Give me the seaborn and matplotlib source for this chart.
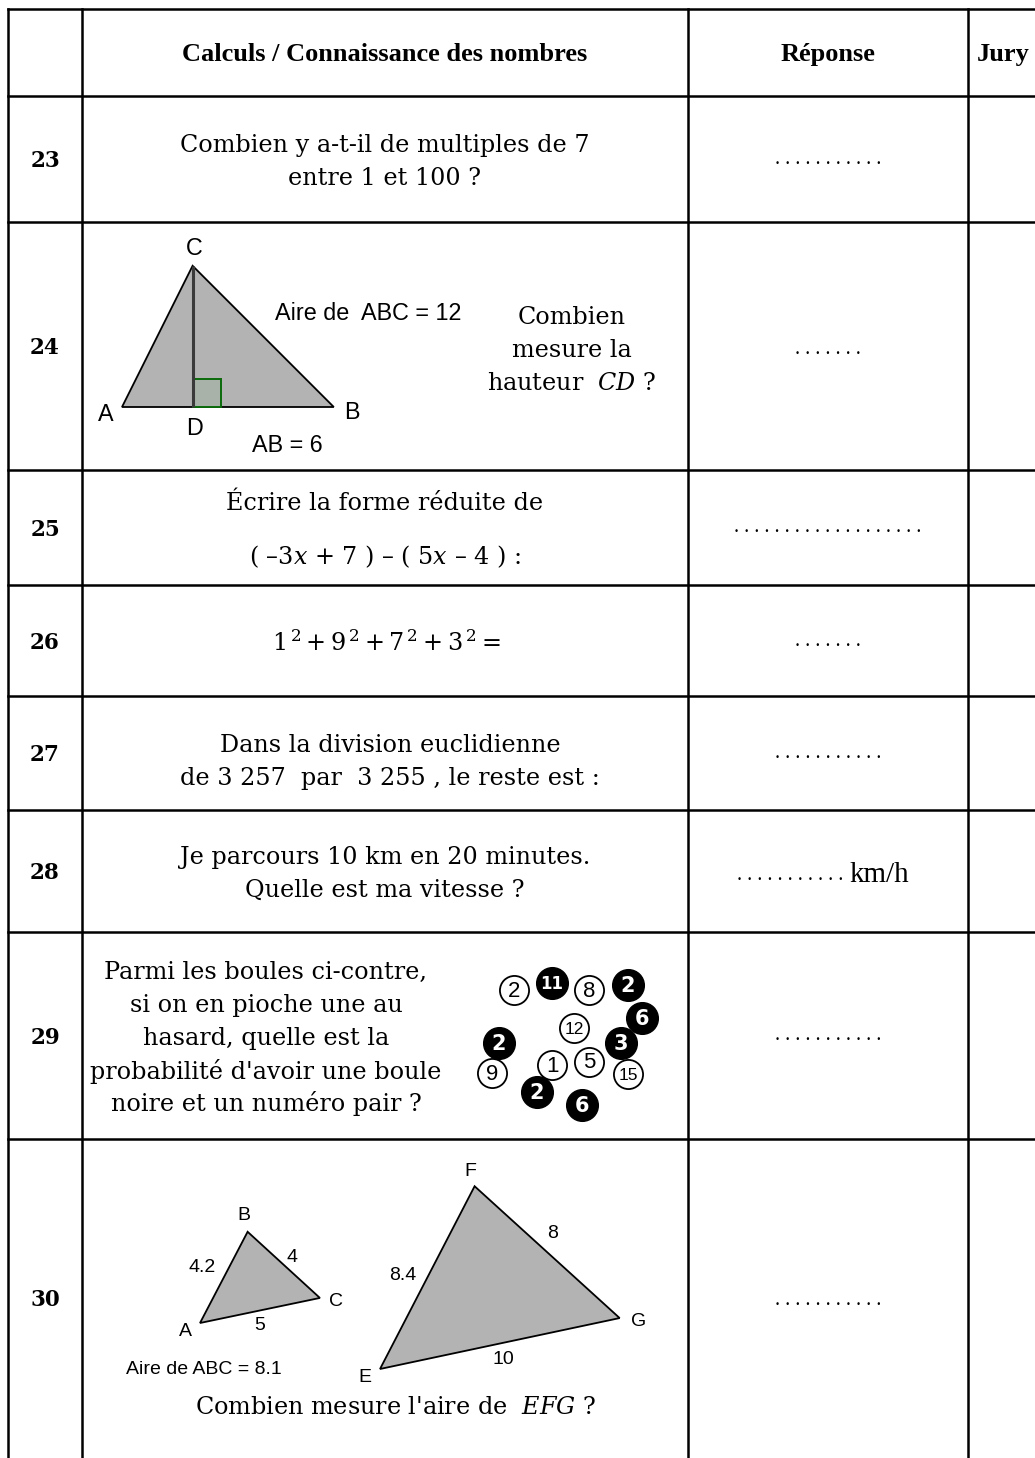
import numpy as np
import matplotlib
matplotlib.use("Agg")
import matplotlib.pyplot as plt
from matplotlib.patches import Polygon, Rectangle
import seaborn as sns

# ---- contenu du tableau ----
entetes = ["Calculs / Connaissance des nombres", "Réponse", "Jury"]
numeros = ["23", "24", "25", "26", "27", "28", "29", "30"]
nb_points = [11, 7, 19, 7, 11, 11, 11, 11]   # pointillés de réponse

q23 = ["Combien y a-t-il de multiples de 7", "entre 1 et 100 ?"]
q24 = ["Combien", "mesure la", r"hauteur  $CD$ ?"]
q25 = ["Écrire la forme réduite de", r"( –3$x$ + 7 ) – ( 5$x$ – 4 ) :"]
q26 = [r"$1^{\,2} + 9^{\,2} + 7^{\,2} + 3^{\,2} =$"]
q27 = ["Dans la division euclidienne", "de 3 257  par  3 255 , le reste est :"]
q28 = ["Je parcours 10 km en 20 minutes.", "Quelle est ma vitesse ?"]
q29 = ["Parmi les boules ci-contre,", "si on en pioche une au",
       "hasard, quelle est la", "probabilité d'avoir une boule",
       "noire et un numéro pair ?"]
q30 = [r"Combien mesure l'aire de  $EFG$ ?"]

# triangle de la question 24
ab_24 = 6
aire_24 = 12
ad_24 = 2

# triangles de la question 30
abc = {"AB": 4.2, "BC": 4, "AC": 5}
aire_abc = 8.1
efg = {"EF": 8.4, "FG": 8, "EG": 10}

# boules de la question 29
boules_num = [2, 11, 8, 2, 12, 6, 2, 3, 1, 5, 9, 15, 2, 6]
boules_noire = [0, 1, 0, 1, 0, 1, 1, 1, 0, 0, 0, 0, 1, 1]

# ---- mise en page (pixels) ----
W, H = 1035, 1458
lignes_y = [9, 96, 222, 470, 585, 696, 810, 932, 1139]
cols_x = [8, 82, 688, 968]
boules_pos = [(514, 990), (552, 983), (589, 990), (628, 985), (574, 1028),
              (642, 1018), (499, 1043), (621, 1043), (552, 1065), (589, 1062),
              (492, 1073), (628, 1074), (537, 1092), (582, 1105)]

sns.set_theme(style="white")
plt.rcParams['font.family'] = ['DejaVu Serif']
plt.rcParams['mathtext.fontset'] = 'dejavuserif'

fig = plt.figure(figsize=(W / 100, H / 100), dpi=100)
ax = fig.add_axes([0, 0, 1, 1])
ax.set_xlim(0, W)
ax.set_ylim(H, 0)
ax.axis('off')

# grille
hl = ax.hlines(lignes_y, cols_x[0], W, color='black', lw=1.8)
vl = ax.vlines(cols_x, lignes_y[0], H, color='black', lw=1.8)
hl.set_capstyle('projecting')
vl.set_capstyle('projecting')

SERIF = 'DejaVu Serif'
SANS = 'Liberation Sans'
corps = 17.2


def txt(x, y, s, size=corps, family=SERIF, **kw):
    kw.setdefault('ha', 'center')
    kw.setdefault('va', 'center')
    ax.text(x, y, s, fontsize=size, family=family, color='black', **kw)


def bloc(x, y0, lignes, pas=33):
    for i, s in enumerate(lignes):
        txt(x, y0 + i * pas, s)


# en-têtes
txt(385, 54, entetes[0], size=19, family='Liberation Serif', weight='bold')
txt(828, 54, entetes[1], size=19, family='Liberation Serif', weight='bold')
txt(977, 54, entetes[2], size=19, family='Liberation Serif', weight='bold', ha='left')

# numéros
for i, n in enumerate(numeros):
    y0 = lignes_y[i + 1]
    y1 = lignes_y[i + 2] if i + 2 < len(lignes_y) else 1458
    yc = (y0 + y1) / 2 + 2 if i < 7 else 1300
    txt(45, yc, n, size=15.5, weight='bold')

# pointillés de réponse
points_y = [164, 354, 532, 646, 758, 880, 1040, 1305]
for i, (n, y) in enumerate(zip(nb_points, points_y)):
    s = " ".join(["."] * n)
    if i == 5:
        txt(843, y, s, size=14.4, family='Liberation Serif', ha='right', va='baseline')
        txt(849, y + 2, "km/h", size=21, family='Liberation Serif', ha='left', va='baseline')
    else:
        txt(828, y, s, size=14.4, family='Liberation Serif', va='baseline')

# question textes
bloc(385, 145, q23)
bloc(572, 317, q24)
txt(385, 503, q25[0])
txt(385, 557, q25[1])
txt(386, 643, q26[0])
bloc(390, 745, q27)
bloc(385, 857, q28)
bloc(266, 972, q29)
txt(395, 1407, q30[0])

# ---- figure question 24 ----
s24 = 35.3
A = np.array([122.0, 407.0])
h24 = 2 * aire_24 / ab_24
B = A + np.array([ab_24 * s24, 0])
D = A + np.array([ad_24 * s24, 0])
C = D + np.array([0, -h24 * s24])
ax.add_patch(Polygon([A, B, C], closed=True, facecolor='#b3b3b3',
                     edgecolor='black', lw=1.3, joinstyle='miter'))
ax.add_patch(Rectangle((D[0], D[1] - 0.8 * s24), 0.8 * s24, 0.8 * s24,
                       facecolor='#a9b2a9', edgecolor='#0a6a0a', lw=1.4))
ax.plot([C[0], D[0]], [C[1], D[1]], color='#3a3a3a', lw=2.2, solid_capstyle='butt')
lab = 16.8
txt(194, 248, "C", size=lab, family=SANS)
txt(106, 414, "A", size=lab, family=SANS)
txt(352, 412, "B", size=lab, family=SANS)
txt(195, 428, "D", size=lab, family=SANS)
txt(287, 445, "AB = %d" % ab_24, size=lab, family=SANS)
txt(368, 313, "Aire de  ABC = %d" % aire_24, size=lab, family=SANS)


# ---- figures question 30 ----
def triangle(p0, base, c1, c2, angle, echelle):
    # p0 : premier sommet, base vers le 3e sommet, c1 côté p0-sommet haut, c2 autre côté
    xb = (c1 ** 2 + base ** 2 - c2 ** 2) / (2 * base)
    yb = np.sqrt(c1 ** 2 - xb ** 2)
    t = np.radians(angle)
    rot = np.array([[np.cos(t), -np.sin(t)], [np.sin(t), np.cos(t)]])
    pts = np.array([[0, 0], [xb, yb], [base, 0]]) @ rot.T
    return np.column_stack([p0[0] + echelle * pts[:, 0], p0[1] - echelle * pts[:, 1]])


t1 = triangle((200, 1323), abc["AC"], abc["AB"], abc["BC"], 11.8, 24.5)
t2 = triangle((380, 1369), efg["EG"], efg["EF"], efg["FG"], 12.0, 24.5)
for t in (t1, t2):
    ax.add_patch(Polygon(t, closed=True, facecolor='#b3b3b3',
                         edgecolor='black', lw=1.3, joinstyle='miter'))

lab2 = 14
txt(244, 1216, "B", size=lab2, family=SANS)
txt(202, 1268, "4.2", size=lab2, family=SANS)
txt(292, 1257, "%g" % abc["BC"], size=lab2, family=SANS)
txt(336, 1302, "C", size=lab2, family=SANS)
txt(185, 1332, "A", size=lab2, family=SANS)
txt(260, 1325, "%g" % abc["AC"], size=lab2, family=SANS)
txt(204, 1370, "Aire de ABC = %g" % aire_abc, size=lab2, family=SANS)
txt(470, 1172, "F", size=lab2, family=SANS)
txt(553, 1233, "%g" % efg["FG"], size=lab2, family=SANS)
txt(403, 1275, "%g" % efg["EF"], size=lab2, family=SANS)
txt(639, 1322, "G", size=lab2, family=SANS)
txt(365, 1377, "E", size=lab2, family=SANS)
txt(503, 1360, "%g" % efg["EG"], size=lab2, family=SANS)

# ---- boules question 29 ----
bx = np.array([p[0] for p in boules_pos])
by = np.array([p[1] for p in boules_pos])
noires = np.array(boules_noire) == 1
ax.scatter(bx[~noires], by[~noires], s=440, facecolor='white',
           edgecolor='black', linewidths=1.3, zorder=3)
ax.scatter(bx[noires], by[noires], s=520, facecolor='black',
           edgecolor='black', linewidths=1.0, zorder=3)
for (x, y), n, k in zip(boules_pos, boules_num, boules_noire):
    if k:
        taille = 15 if n < 10 else 12
        ax.text(x, y + 1, str(n), fontsize=taille, family='DejaVu Sans', weight='bold',
                color='white', ha='center', va='center', zorder=4)
    else:
        taille = 16 if n < 10 else 12.5
        ax.text(x, y + 1, str(n), fontsize=taille, family='Liberation Sans',
                color='black', ha='center', va='center', zorder=4)

fig.savefig("out.png", dpi=100, facecolor='white')
